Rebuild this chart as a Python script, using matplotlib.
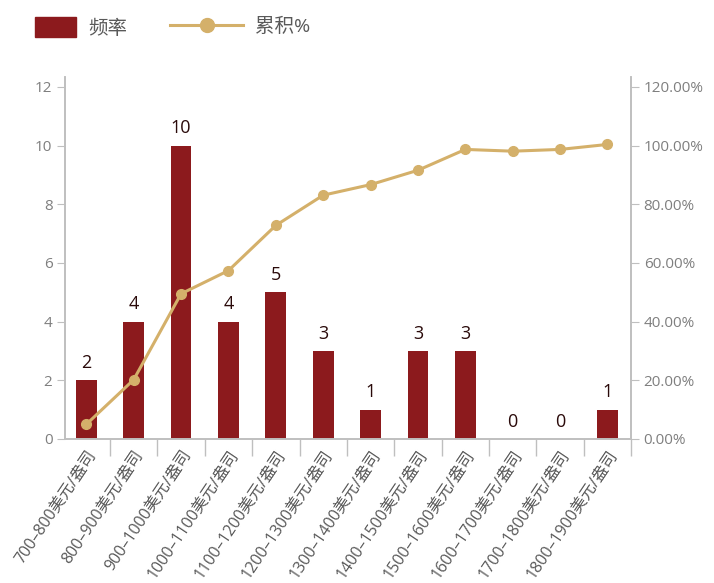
import matplotlib
matplotlib.use("Agg")
import matplotlib.pyplot as plt
import matplotlib.transforms as mtransforms
import numpy as np
from matplotlib.patches import Patch
from matplotlib.lines import Line2D
from matplotlib.ticker import FuncFormatter

plt.rcParams['font.family'] = ['Open Sans', 'Noto Sans CJK SC', 'DejaVu Sans']

# price bands (USD per ounce)
categories = ['700–800美元/盎司', '800–900美元/盎司', '900–1000美元/盎司',
              '1000–1100美元/盎司', '1100–1200美元/盎司', '1200–1300美元/盎司',
              '1300–1400美元/盎司', '1400–1500美元/盎司', '1500–1600美元/盎司',
              '1600–1700美元/盎司', '1700–1800美元/盎司', '1800–1900美元/盎司']
freq = [2, 4, 10, 4, 5, 3, 1, 3, 3, 0, 0, 1]
cum_pct = [5.0, 20.2, 49.5, 57.4, 72.8, 83.1, 86.7, 91.6, 98.7, 98.1, 98.7, 100.4]

bar_color = '#8c1a1d'
line_color = '#d4b06a'
axis_color = '#bfbfbf'
text_gray = '#7f7f7f'

fig = plt.figure(figsize=(7.14, 5.83), dpi=100)
ax = fig.add_axes([0.091, 0.247, 0.793, 0.621])
ax2 = ax.twinx()

x = np.arange(len(categories))
ax.bar(x, freq, width=0.44, color=bar_color, zorder=2)
for xi, v in zip(x, freq):
    ax.annotate(str(v), (xi, v), xytext=(0, 6), textcoords='offset points',
                ha='center', va='bottom', fontsize=13, color='#2a0a0a')

ax2.plot(x, cum_pct, color=line_color, lw=2.2, marker='o', ms=7, zorder=3)

ax.set_xlim(-0.45, 11.5)
ax.set_ylim(0, 12.34)
ax2.set_ylim(0, 123.4)
ax.set_yticks([0, 2, 4, 6, 8, 10, 12])
ax2.set_yticks([0, 20, 40, 60, 80, 100, 120])
ax2.yaxis.set_major_formatter(FuncFormatter(lambda v, p: f'{v:.2f}%'))

ax.set_xticks(x)
ax.set_xticklabels(categories, rotation=56, ha='right', va='top',
                   rotation_mode='anchor', fontsize=11.5, color='#595959')
shift = mtransforms.ScaledTranslation(10 / 100, -2 / 100, fig.dpi_scale_trans)
for lbl in ax.get_xticklabels():
    lbl.set_transform(lbl.get_transform() + shift)
ax.tick_params(axis='x', which='major', length=0, pad=6)
ax.set_xticks(np.arange(0.5, 12, 1), minor=True)
ax.tick_params(axis='x', which='minor', length=12, color=axis_color, width=1)

for a in (ax, ax2):
    a.spines['top'].set_visible(False)
    for s in ('left', 'right', 'bottom'):
        a.spines[s].set_color(axis_color)
        a.spines[s].set_linewidth(1.2)
ax.tick_params(axis='y', length=6, color=axis_color, labelsize=11,
               labelcolor=text_gray, pad=3)
ax2.tick_params(axis='y', length=6, color=axis_color, labelsize=11,
                labelcolor=text_gray, pad=3)

h1 = [Patch(facecolor=bar_color, edgecolor=bar_color)]
fig.legend(h1, ['频率'], loc='upper left', bbox_to_anchor=(0.025, 1.0),
           frameon=False, fontsize=14, handlelength=2.1, handleheight=1.2,
           labelcolor='#595959', handletextpad=0.6)
h2 = [Line2D([], [], color=line_color, lw=2.2, marker='o', ms=10)]
fig.legend(h2, ['累积%'], loc='upper left', bbox_to_anchor=(0.213, 1.0),
           frameon=False, fontsize=14, handlelength=3.8,
           labelcolor='#595959', handletextpad=0.6)

fig.savefig('out.png', dpi=100)
